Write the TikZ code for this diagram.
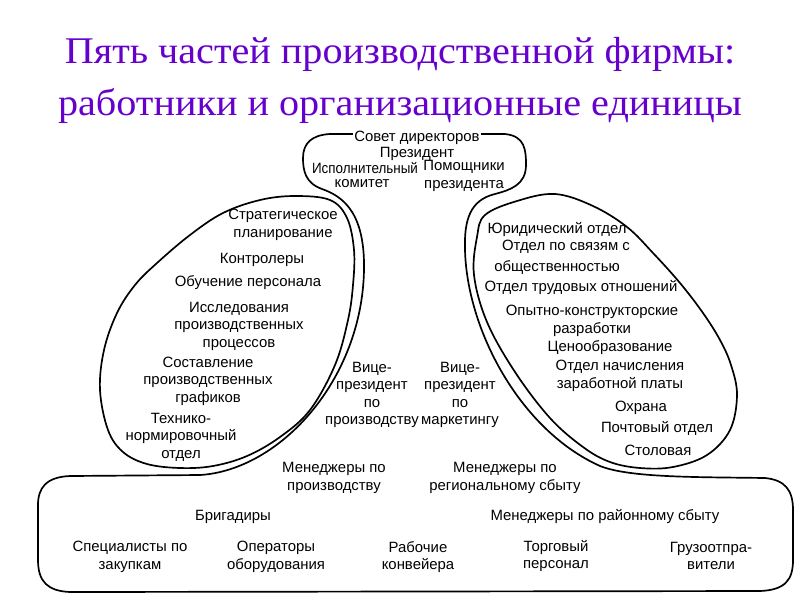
\documentclass[tikz,border=0pt]{standalone}
\usepackage{fontspec}
\setmainfont{Liberation Serif}
\setsansfont{Liberation Sans}
\begin{document}
\begin{tikzpicture}[x=0.025cm,y=-0.025cm,line join=round,line cap=round]
        \definecolor{titleviolet}{RGB}{102,0,204}
        \tikzset{
                kontur/.style={line width=1.2pt},
                podpis/.style={font=\sffamily\fontsize{10.6}{12.4}\selectfont,align=center,inner sep=0pt},
                zagolovok/.style={font=\rmfamily\fontsize{26.8}{30}\selectfont,text=titleviolet,inner sep=0pt,anchor=base,xscale=1.066}
        }
        \useasboundingbox (0,0) rectangle (800,600);
        % title
        \node[zagolovok] (zag1) at (400,63) {Пять частей производственной фирмы:};
        \node[zagolovok] (zag2) at (400,115) {работники и организационные единицы};
        % apex, middle line and operating core as one outline
        \draw[kontur] (415,134) -- (505,134)
                .. controls (525,136) and (526,150) .. (526,165)
                .. controls (526,185) and (510,190) .. (495,194)
                .. controls (470,200) and (464,220) .. (465,250)
                .. controls (467,330) and (520,430) .. (600,466)
                .. controls (630,478) and (700,477) .. (765,478)
                .. controls (785,480) and (793,490) .. (793,510)
                -- (793,560)
                .. controls (793,580) and (785,590) .. (760,591)
                -- (70,592)
                .. controls (48,591) and (38,582) .. (38,560)
                -- (38,505)
                .. controls (38,488) and (46,477) .. (70,476)
                -- (200,475)
                .. controls (280,470) and (362,380) .. (364,270)
                .. controls (365,215) and (345,197) .. (322,189)
                .. controls (305,183) and (303,170) .. (303,158)
                .. controls (303,143) and (312,135) .. (330,134) -- cycle;
        % technostructure
        \draw[kontur] plot[smooth cycle,tension=0.6] coordinates {
                (330,200) (347,218) (354,250) (353,285) (348,320) (335,365) (310,410)
                (280,437) (247,456) (213,466) (180,468) (147,464) (123,452) (108,430)
                (100,390) (104,350) (117,313) (135,285) (157,263) (190,235) (223,213)
                (260,200) (295,196)};
        % support staff
        \draw[kontur] plot[smooth cycle,tension=0.6] coordinates {
                (477,237) (485,215) (517,201) (555,194) (593,206) (627,227) (653,253)
                (680,283) (703,313) (720,340) (731,365) (737,395) (730,430) (707,455)
                (673,467) (640,468) (610,462) (583,447) (550,418) (515,372) (487,322)
                (474,275)};
        % apex texts
        \node[podpis,fill=white,inner sep=1pt] (sovet) at (417,138) {Совет директоров};
        \node[podpis] (prezident) at (417,154) {Президент};
        \node[podpis,xscale=0.9] (ispoln) at (365,168) {Исполнительный};
        \node[podpis] (komitet) at (362,184) {комитет};
        \node[podpis] (pomoshch) at (464,176) {Помощники\\президента};
        % left
        \node[podpis] (strateg) at (283,225) {Стратегическое\\планирование};
        \node[podpis] (kontrol) at (262,260) {Контролеры};
        \node[podpis] (obuch) at (248,283) {Обучение персонала};
        \node[podpis] (issled) at (239,326) {Исследования\\производственных\\процессов};
        \node[podpis] (grafik) at (208,381) {Составление\\производственных\\графиков};
        \node[podpis] (normir) at (181,437) {Технико-\\нормировочный\\отдел};
        % right
        \node[podpis] (yurid) at (557,230) {Юридический отдел};
        \node[podpis] (svyazi) at (566,247) {Отдел по связям с};
        \node[podpis] (obshch) at (557,268) {общественностью};
        \node[podpis] (trud) at (581,288) {Отдел трудовых отношений};
        \node[podpis] (okr) at (592,321) {Опытно-конструкторские\\разработки};
        \node[podpis] (cena) at (610,348) {Ценообразование};
        \node[podpis] (zarplata) at (620,376) {Отдел начисления\\заработной платы};
        \node[podpis] (ohrana) at (641,408) {Охрана};
        \node[podpis] (pochta) at (657,428) {Почтовый отдел};
        \node[podpis] (stolov) at (658,450) {Столовая};
        % middle line
        \node[podpis] (vpproizv) at (372,395) {Вице-\\президент\\по\\производству};
        \node[podpis] (vpmark) at (460,395) {Вице-\\президент\\по\\маркетингу};
        \node[podpis] (menproizv) at (334,478) {Менеджеры по\\производству};
        \node[podpis] (menreg) at (505,478) {Менеджеры по\\региональному сбыту};
        % operating core
        \node[podpis] (brigad) at (233,517) {Бригадиры};
        \node[podpis] (menrayon) at (605,517) {Менеджеры по районному сбыту};
        \node[podpis] (zakup) at (130,557) {Специалисты по\\закупкам};
        \node[podpis] (operat) at (276,557) {Операторы\\оборудования};
        \node[podpis] (konveyer) at (418,557) {Рабочие\\конвейера};
        \node[podpis] (torg) at (556,556) {Торговый\\персонал};
        \node[podpis] (gruz) at (711,556) {Грузоотпра-\\вители};
\end{tikzpicture}
\end{document}
